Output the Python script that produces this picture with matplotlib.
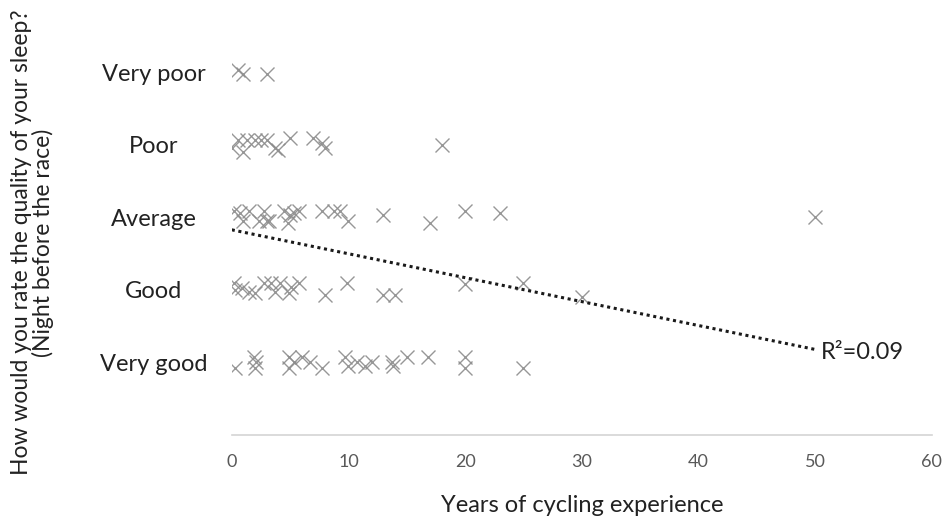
import numpy as np
import matplotlib
matplotlib.use('Agg')
import matplotlib.pyplot as plt
from matplotlib.transforms import offset_copy

plt.rcParams['font.family'] = ['Lato', 'DejaVu Sans']

# sleep rating categories (1 = Very good ... 5 = Very poor)
categories = ['Very good', 'Good', 'Average', 'Poor', 'Very poor']
category_values = [1, 2, 3, 4, 5]

# years of experience / jittered rating for each answer group
very_poor_x = [0.5, 1, 3]
very_poor_y = [5.03, 4.98, 4.98]

poor_x = [0, 0.5, 1, 1.3, 2, 2.5, 3, 3.7, 4, 5, 7, 7.7, 8, 18]
poor_y = [3.96, 4.07, 3.90, 4.07, 4.07, 4.07, 4.07, 3.96, 3.93, 4.10, 4.10, 4.03, 3.96, 4.0]

average_x = [0.2, 0.7, 1, 1.5, 2.3, 2.8, 3.0, 3.2, 4.5, 5, 5.3, 5.8, 4.8, 7.7, 8.8, 9.3, 10, 13, 17, 20, 23, 50]
average_y = [3.09, 3.06, 2.95, 3.09, 2.95, 3.09, 2.95, 2.95, 3.09, 3.03, 3.06, 3.09, 2.92, 3.09, 3.09, 3.09, 2.95,
             3.03, 2.92, 3.09, 3.06, 3.0]

good_x = [0.2, 0.3, 0.9, 1.5, 2, 2.8, 3.4, 3.7, 4.1, 4.9, 5.1, 5.8, 8, 9.9, 13, 14, 20, 25, 30]
good_y = [2.10, 2.0, 2.03, 1.97, 1.96, 2.10, 2.10, 1.97, 2.10, 1.96, 2.04, 2.10, 1.93, 2.10, 1.93, 1.93, 2.08,
          2.10, 1.90]

very_good_x = [0.3, 1.9, 2, 2.1, 4.9, 4.9, 5.3, 6, 6.7, 7.7, 9.7, 10, 10.7, 11.4, 12, 13.7, 13.8, 15, 16.8, 20,
               20, 25]
very_good_y = [0.92, 1.07, 0.92, 1.0, 1.07, 0.92, 1.0, 1.07, 1.0, 0.92, 1.07, 0.95, 1.0, 0.95, 1.0, 1.0, 0.95,
               1.07, 1.07, 1.07, 0.92, 0.92]

# linear trend (intercept, slope) and its R squared
trend_intercept = 2.83
trend_slope = -0.033
trend_range = [0, 50]
r_squared = 0.09

x_all = very_poor_x + poor_x + average_x + good_x + very_good_x
y_all = very_poor_y + poor_y + average_y + good_y + very_good_y

fig = plt.figure(figsize=(9.46, 5.16), dpi=100)
ax = fig.add_axes([0.245, 0.157, 0.74, 0.843])

ax.plot(x_all, y_all, linestyle='none', marker='x', markersize=10, markeredgewidth=1.0,
        color='#8c8c8c', alpha=0.9)

# dotted trend line with R² label at its right end
tx = np.array(trend_range, dtype=float)
ty = trend_intercept + trend_slope * tx
ax.plot(tx, ty, linestyle=(0, (1, 1.2)), linewidth=2.2, color='#1a1a1a')

lbl = offset_copy(ax.transData, fig=fig, x=4, y=-2, units='points')
ax.text(tx[-1], ty[-1], f'R²={r_squared:.2f}', transform=lbl, ha='left', va='center',
        fontsize=17, color='#222222')

ax.set_xlim(0, 60)
ax.set_ylim(0, 6)
ax.set_xticks(range(0, 61, 10))
ax.set_yticks(category_values)
ax.set_yticklabels(categories, ha='center')

ax.tick_params(axis='x', length=0, pad=14, labelsize=13, labelcolor='#595959')
ax.tick_params(axis='y', length=0, pad=56, labelsize=17, labelcolor='#222222')

for side in ['top', 'right', 'left']:
    ax.spines[side].set_visible(False)
ax.spines['bottom'].set_color('#d4d4d4')
ax.spines['bottom'].set_linewidth(1.2)

ax.set_xlabel('Years of cycling experience', fontsize=17, color='#222222', labelpad=18)
fig.text(0.034, 0.53, 'How would you rate the quality of your sleep?\n(Night before the race)',
         rotation=90, ha='center', va='center', fontsize=16.5, color='#222222', linespacing=1.0)

fig.savefig('out.png', dpi=100)
